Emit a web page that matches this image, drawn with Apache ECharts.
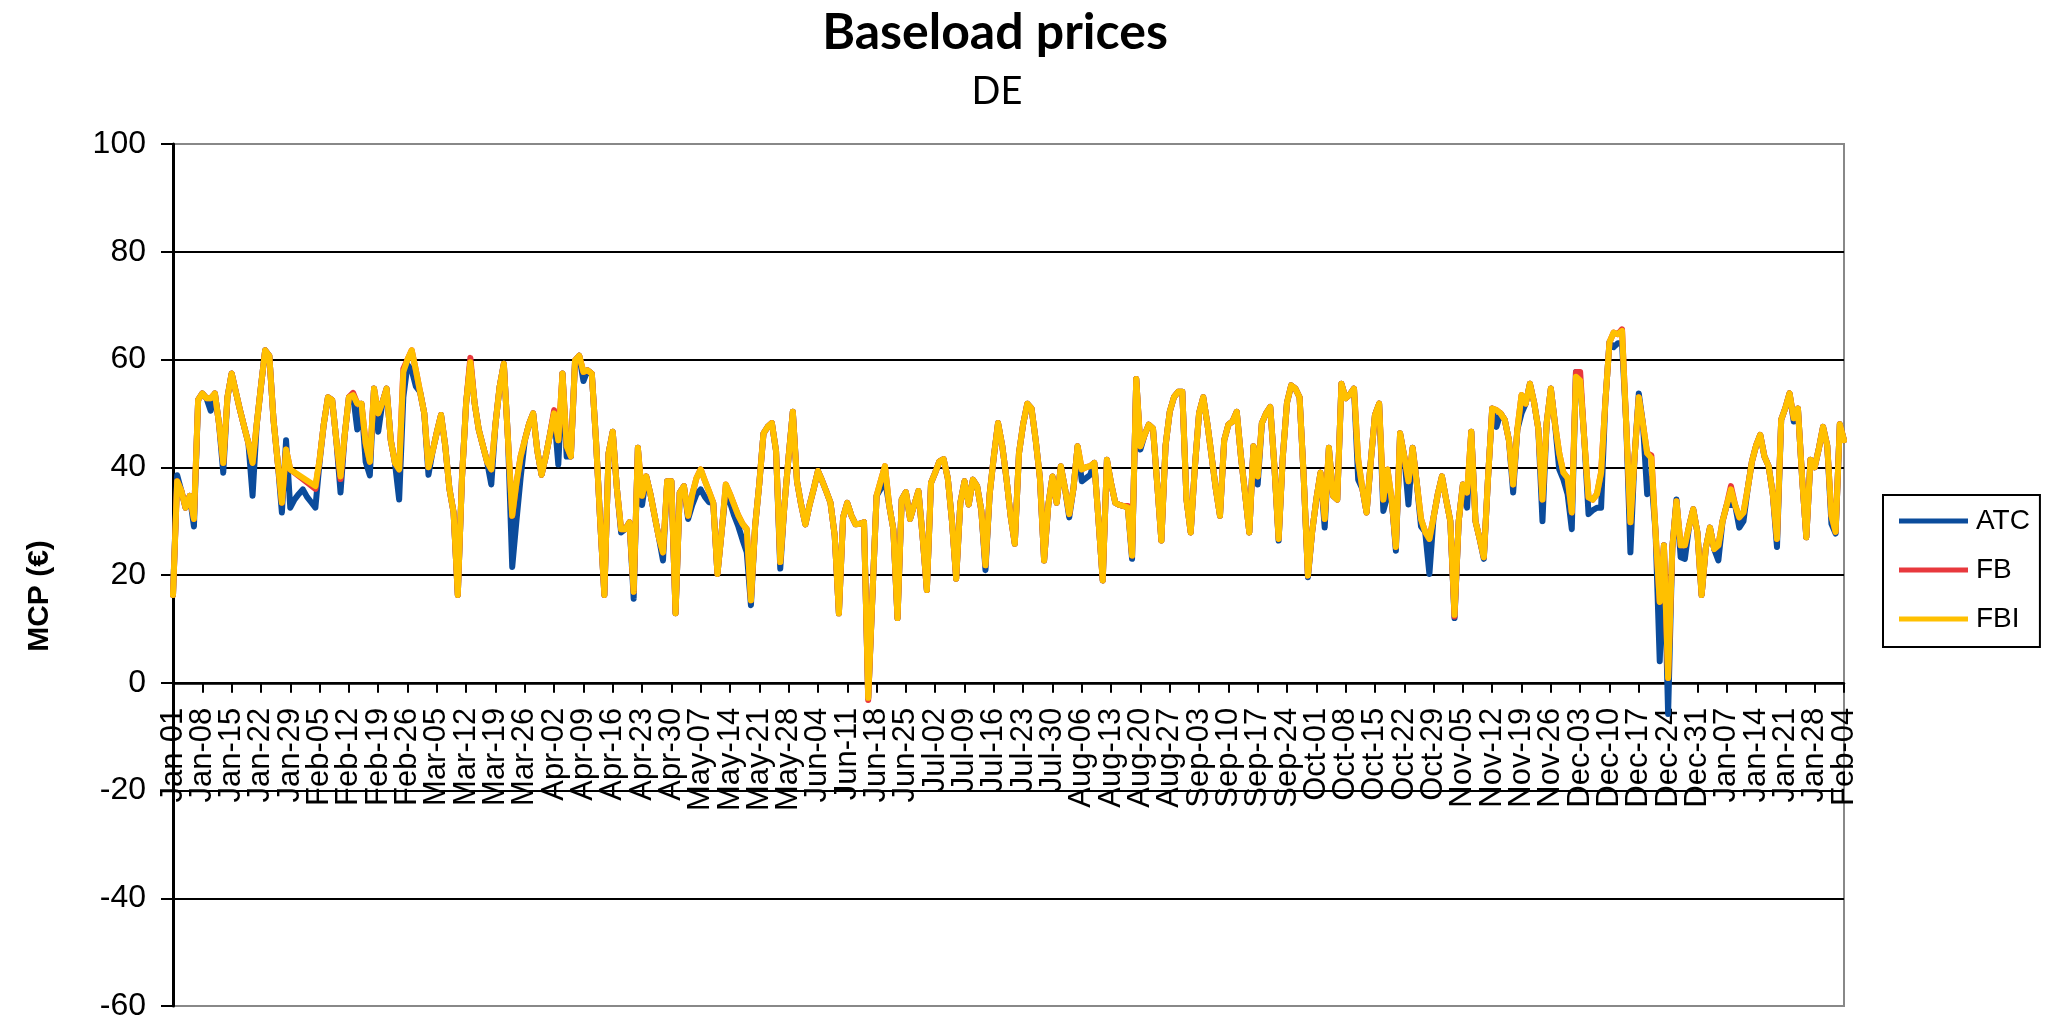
<!DOCTYPE html>
<html>
<head>
<meta charset="utf-8">
<script src="https://cdn.jsdelivr.net/npm/echarts@6/dist/echarts.min.js"></script>
<style>
html,body{margin:0;padding:0;background:#fff;}
#chart{width:2054px;height:1024px;}
</style>
</head>
<body>
<div id="chart"></div>
<script>
// ---- categories: daily dates, Jan-01 (2013) .. Feb-04 (2014) ----
const MONTHS = ['Jan','Feb','Mar','Apr','May','Jun','Jul','Aug','Sep','Oct','Nov','Dec'];
const START_YEAR = 2013;
const N_DAYS = 400;
const LABEL_EVERY = 7;
const days = [];
for (let i = 0; i < N_DAYS; i++) {
  const d = new Date(Date.UTC(START_YEAR, 0, 1 + i));
  days.push(MONTHS[d.getUTCMonth()] + '-' + String(d.getUTCDate()).padStart(2, '0'));
}

// ---- y axis ----
const Y_MIN = -60, Y_MAX = 100, Y_STEP = 20;
const Y_NAME = 'MCP (€)';

// ---- series values (one row = one week) ----
const ATC = [
16.3,38.5,35.6,32.5,34.7,29,52.5,
53.7,52.8,50.5,53.7,48,39,53,
57.4,54,50.6,47.5,44.5,34.7,48,
55,61.7,60.7,48.8,41,31.6,45,
32.5,34,35,35.9,34.5,33.5,32.5,
41,48,53,52.5,45,35.3,46,
53,53.4,47,51.8,41,38.5,54.6,
46.6,52,54.6,45,40.8,34,53,
59,58,55,54,50,38.6,43,
46.5,49.7,44,36,31.6,16.3,38,
52,59.5,52,47,44,41,36.8,
48,55,59.2,45,21.5,30,38,
45,48,50,43,38.6,42,46,
50,40.5,57.4,42,42,59.8,60.7,
56,58,57.4,45,30,16.3,42.6,
46.6,36,27.9,28.5,29.8,15.6,43.6,
33,38.3,35,31,27,22.7,37.4,
37.4,12.9,35.3,36.5,30.4,33,35,
35.9,34.5,33.5,33.4,20.2,28,35.6,
33.5,31,29,26.5,24.2,14.4,29.1,
37,46.3,47.5,48.2,43,21.2,33,
42,50.3,37.4,33,29.4,33,36,
39.3,37.5,35.5,33.4,27.3,12.9,30.7,
33.4,31,29.4,29.5,29.8,-2.8,16,
34.7,36,37.7,33,28.5,12,34,
35.4,30.4,33,35.6,27,17.2,37.1,
39,41.1,41.5,38,30,19.3,33.4,
37.4,33.1,37.7,36.5,32,20.9,35,
42,48.2,44,38,31,25.8,42.6,
48,51.8,50.9,45,38,22.7,33,
38.3,33.4,40.2,36,30.7,36,43.9,
37.4,38,38.6,40.8,30,19,41.4,
37,33.4,33,32.8,32.5,23,56.4,
43.3,46,47.9,47.2,37,26.4,44,
50.3,53,54,54,34,27.9,40,
50,53,48,42,36,31,45,
47.9,48.5,50.3,42,35,27.9,43.9,
36.8,48.2,50,51.2,40,26.4,42,
52,55.2,54.6,53,38,19.6,28,
34,39,28.8,43.6,34.7,34,55.5,
52.8,53.5,54.6,37.7,36,31.6,41,
49.7,51.8,31.9,34.7,34,24.5,46.3,
42,33.1,43.6,37,29,28,20.2,
30.7,35,38.3,34,30,12,30,
36.8,32.5,46.6,30,26.7,23,38,
50.9,47.5,50,48.8,45,35.3,47,
50,51.8,55.5,52,47.2,30,48.2,
54.6,48,39.6,37.7,35,28.5,57.7,
56.1,45,31.3,32,32.5,32.5,52,
63.2,62.3,63,63,48,24.2,42,
53.7,48,35,38,28,4,25.5,
-5.8,25,34,23.3,23,29,32.2,
27.9,16.3,25,28.8,24.8,22.7,30,
33,33,33,28.8,30,36,41,
44,46,42,40.2,35,25.2,48.8,
51,53.7,48.5,50.9,38,27,41.4,
40,43.5,47.5,44,29.5,27.7,48,
45
];

const FB = [
16.3,37.4,35.6,32.5,34.7,30.4,52.5,
53.7,52.8,52.8,53.7,48,40.8,53,
57.4,54,50.6,47.5,44.5,40.8,48,
55,61.7,60.7,48.8,41,33.4,43.3,
39.6,null,null,null,null,null,36,
41.4,48,53,52.5,45,37.8,46,
53,53.8,51.8,51.8,44.5,41,54.6,
50,52,54.6,45,40.8,39.6,58.3,
60,61.7,58,54,50,40,43,
46.5,49.7,44,36,31.6,16.3,38,
52,60.3,52,47,44,41,39.6,
48,55,59.2,45,31,37,42,
45,48,50,43,38.6,42,46,
50.6,45,57.4,43.9,42,59.8,60.7,
57.7,58,57.4,45,30,16.3,42.6,
46.6,36,28.5,28.5,29.8,16.9,43.6,
34.7,38.3,35,31,27,24.2,37.4,
37.4,12.9,35.3,36.5,31,35,38,
39.6,37.5,35.5,33.4,20.2,28,36.8,
35,33,31,29.5,28.5,15.3,29.1,
37,46.3,47.5,48.2,43,22.4,33,
42,50.3,37.4,33,29.4,33,36,
39.3,37.5,35.5,33.4,27.3,12.9,30.7,
33.4,31,29.4,29.5,29.8,-3.2,16,
34.7,37.5,40.2,33,28.5,12,34,
35.4,30.4,33,35.6,27,17.2,37.1,
39,41.1,41.5,38,30,19.3,33.4,
37.4,33.1,37.7,36.5,32,21.8,35,
42,48.2,44,38,31,25.8,42.6,
48,51.8,50.9,45,38,22.7,33,
38.3,33.4,40.2,36,31.3,36,43.9,
39.6,40,40.2,40.8,30,19,41.4,
37,33.4,33,32.8,32.8,23.6,56.4,
43.9,46,47.9,47.2,37,26.4,44,
50.3,53,54,54,34,27.9,40,
50,53,48,42,36,31,45,
47.9,48.5,50.3,42,35,27.9,43.9,
38.3,48.2,50,51.2,40,26.7,42,
52,55.2,54.6,53,38,19.9,28,
34,39,30.4,43.6,34.7,34,55.5,
52.8,53.5,54.6,41.4,36,31.6,41,
49.7,51.8,34,39.6,34,25.2,46.3,
42,37.4,43.6,37,30.4,28,26.7,
30.7,35,38.3,34,30,12.3,30,
36.8,35.3,46.6,30,26.7,23.3,38,
50.9,50.6,50,48.8,45,36.8,47,
53.4,51.8,55.5,52,47.2,34,48.2,
54.6,48,42.6,39,38,31.6,57.7,
57.7,45,34.4,34,35,39,52,
63.2,65,64.7,65.6,48,29.8,42,
53,48,42.6,42.2,28,15,25.5,
0.9,25,33.7,25.5,25.5,29,32.2,
27.9,16.3,25,28.8,24.8,25.5,30,
33,36.5,33,30.7,31.6,36,41,
44,46,42,40.2,35,26.7,48.8,
51,53.7,49.1,50.9,38,27,41.4,
40,43.5,47.5,44,31,28,48,
45
];

const FBI = [
16.3,37.4,35.6,32.5,34.7,30.4,52.5,
53.7,52.8,52.8,53.7,48,40.8,53,
57.4,54,50.6,47.5,44.5,40.8,48,
55,61.7,60.7,48.8,41,33.4,43.3,
39.6,null,null,null,null,null,36.5,
41.4,48,53,52.5,45,38.3,46,
53,53.4,51.8,51.8,44.5,41,54.6,
50,52,54.6,45,40.8,39.6,57.7,
60,61.7,58,54,50,40,43,
46.5,49.7,44,36,31.6,16.3,38,
52,59.5,52,47,44,41,39.6,
48,55,59.2,45,31,37,42,
45,48,50,43,38.6,42,46,
50,45,57.4,43.9,42,59.8,60.7,
57.7,58,57.4,45,30,16.3,42.6,
46.6,36,28.5,28.5,29.8,16.9,43.6,
34.7,38.3,35,31,27,24.2,37.4,
37.4,12.9,35.3,36.5,31,35,38,
39.6,37.5,35.5,33.4,20.2,28,36.8,
35,33,31,29.5,28.5,15.3,29.1,
37,46.3,47.5,48.2,43,22.4,33,
42,50.3,37.4,33,29.4,33,36,
39.3,37.5,35.5,33.4,27.3,12.9,30.7,
33.4,31,29.4,29.5,29.8,-2.8,16,
34.7,37.5,40.2,33,28.5,12,34,
35.4,30.4,33,35.6,27,17.2,37.1,
39,41.1,41.5,38,30,19.3,33.4,
37.4,33.1,37.7,36.5,32,21.8,35,
42,48.2,44,38,31,25.8,42.6,
48,51.8,50.9,45,38,22.7,33,
38.3,33.4,40.2,36,31.3,36,43.9,
39.6,40,40.2,40.8,30,19,41.4,
37,33.4,33,32.8,32.5,23.6,56.4,
43.9,46,47.9,47.2,37,26.4,44,
50.3,53,54,54,34,27.9,40,
50,53,48,42,36,31,45,
47.9,48.5,50.3,42,35,27.9,43.9,
38.3,48.2,50,51.2,40,26.7,42,
52,55.2,54.6,53,38,19.9,28,
34,39,30.4,43.6,34.7,34,55.5,
52.8,53.5,54.6,41.4,36,31.6,41,
49.7,51.8,34,39.6,34,25.2,46.3,
42,37.4,43.6,37,30.4,28,26.7,
30.7,35,38.3,34,30,12.6,30,
36.8,35.3,46.6,30,26.7,23.3,38,
50.9,50.6,50,48.8,45,36.8,47,
53.4,51.8,55.5,52,47.2,34,48.2,
54.6,48,42.6,39,38,31.6,56.8,
56.1,45,34.4,34,35,39,52,
63.2,65,64.7,65.3,48,29.8,42,
53,48,42.6,41.7,28,15,25.5,
0.9,25,33.7,25.5,25.5,29,32.2,
27.9,16.3,25,28.8,24.8,25.5,30,
33,35.9,33,30.7,31.6,36,41,
44,46,42,40.2,35,26.7,48.8,
51,53.7,49.1,50.9,38,27,41.4,
40,43.5,47.5,44,31,28,48,
45
];

const SERIES_NAMES = ['ATC', 'FB', 'FBI'];
const COLORS = ['#0B4C9C', '#E8383D', '#FFC000'];
const SERIES_DATA = [ATC, FB, FBI];

const LABEL_FONT = 'Liberation Sans, Arial, sans-serif';
const TITLE_FONT = 'Lato, Carlito, Calibri, sans-serif';

// grid geometry (page pixels)
const GRID = {left: 173, right: 210, top: 144, bottom: 18};
const PAGE_H = 1024;
const gridH = PAGE_H - GRID.top - GRID.bottom;
// move the category axis (line, ticks, labels) up to the value 0
const xAxisOffset = -gridH * (0 - Y_MIN) / (Y_MAX - Y_MIN);

const chart = echarts.init(document.getElementById('chart'), null, {renderer: 'canvas'});

const yLineColors = [];
for (let v = Y_MIN; v <= Y_MAX; v += Y_STEP) {
  yLineColors.push(v === Y_MIN || v === Y_MAX ? '#888888' : '#000000');
}

chart.setOption({
  animation: false,
  backgroundColor: '#ffffff',
  title: [
    {
      text: 'Baseload prices',
      left: 990, top: 3, textAlign: 'center',
      textStyle: {fontFamily: TITLE_FONT, fontWeight: 'bold', fontSize: 50, color: '#000'}
    },
    {
      text: 'DE',
      left: 992, top: 68, textAlign: 'center',
      textStyle: {fontFamily: TITLE_FONT, fontWeight: 'normal', fontSize: 38, color: '#000'}
    }
  ],
  graphic: [{
    type: 'text',
    x: 40, y: 596,
    rotation: Math.PI / 2,
    style: {
      text: Y_NAME,
      fontFamily: LABEL_FONT, fontWeight: 'bold', fontSize: 30, fill: '#000',
      align: 'center', verticalAlign: 'middle'
    }
  }],
  legend: {
    orient: 'vertical',
    left: 1883, top: 495,
    padding: [11, 10, 13, 16],
    borderColor: '#000', borderWidth: 2,
    itemWidth: 69, itemHeight: 5, itemGap: 19,
    icon: 'rect',
    textStyle: {fontFamily: LABEL_FONT, fontSize: 28, color: '#000', lineHeight: 30, padding: [0, 0, 0, 3]},
    data: SERIES_NAMES
  },
  grid: {
    left: GRID.left, right: GRID.right, top: GRID.top, bottom: GRID.bottom,
    show: true, borderColor: '#888888', borderWidth: 2, backgroundColor: '#fff',
    containLabel: false
  },
  xAxis: {
    type: 'category',
    data: days,
    boundaryGap: false,
    offset: xAxisOffset,
    axisLine: {onZero: false, lineStyle: {color: '#000', width: 2.5}},
    axisTick: {show: true, interval: LABEL_EVERY - 1, length: 10, lineStyle: {color: '#000', width: 2}},
    axisLabel: {
      interval: 0, rotate: 90, margin: 25, hideOverlap: false,
      formatter: (value, index) => (index % LABEL_EVERY === 0 ? value : ''),
      fontFamily: LABEL_FONT, fontSize: 31, color: '#000'
    },
    splitLine: {show: false}
  },
  yAxis: {
    type: 'value',
    min: Y_MIN, max: Y_MAX, interval: Y_STEP,
    axisLine: {show: true, lineStyle: {color: '#000', width: 3}},
    axisTick: {show: true, length: 12, lineStyle: {color: '#000', width: 2}},
    axisLabel: {margin: 27, fontFamily: LABEL_FONT, fontSize: 32, color: '#000'},
    splitLine: {show: true, lineStyle: {color: yLineColors, width: 2}}
  },
  series: SERIES_NAMES.map((name, i) => ({
    name: name,
    type: 'line',
    data: SERIES_DATA[i],
    symbol: 'none',
    showSymbol: false,
    connectNulls: true,
    itemStyle: {color: COLORS[i]},
    lineStyle: {width: 6, color: COLORS[i], join: 'round', cap: 'round'},
    emphasis: {disabled: true}
  }))
});
</script>
</body>
</html>
